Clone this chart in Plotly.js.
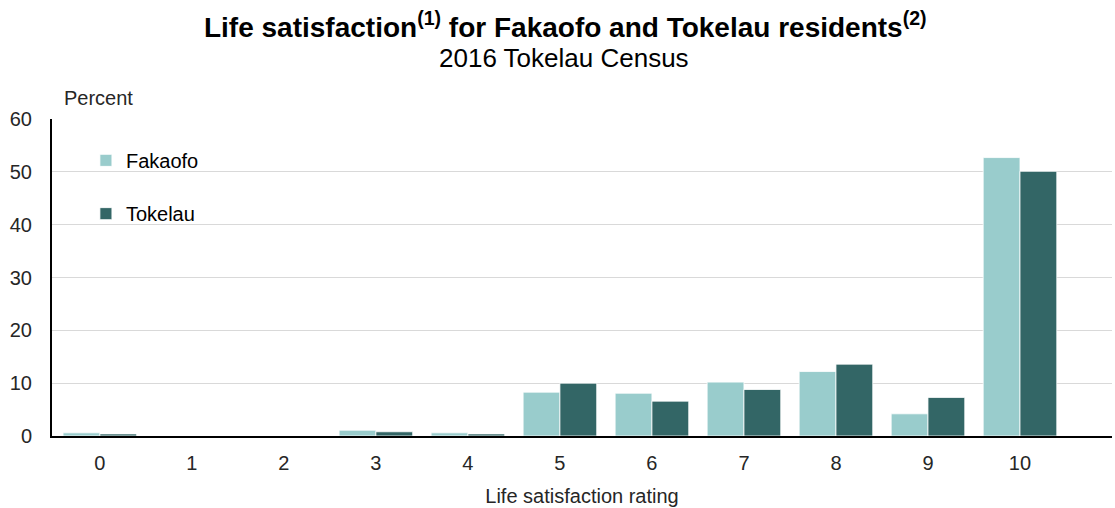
<!DOCTYPE html>
<html>
<head>
<meta charset="utf-8">
<script src="https://cdn.plot.ly/plotly-3.0.1.min.js"></script>
<style>html,body{margin:0;padding:0;background:#fff;}#chart{width:1115px;height:508px;}</style>
</head>
<body>
<div id="chart"></div>
<script>
const ratings = [0, 1, 2, 3, 4, 5, 6, 7, 8, 9, 10];
const tickLabels = ["0", "1", "2", "3", "4", "5", "6", "7", "8", "9", "10"];
const fakaofo = [0.6, 0, 0, 1.1, 0.6, 8.3, 8.1, 10.2, 12.2, 4.2, 52.7];
const tokelau = [0.4, 0, 0, 0.8, 0.4, 10.0, 6.6, 8.8, 13.6, 7.3, 50.1];
const yTicks = [0, 10, 20, 30, 40, 50, 60];

const FONT = "Liberation Sans, Arial, sans-serif";
const FS = 20;

const traces = [
  {
    type: "bar", name: "Fakaofo", x: ratings, y: fakaofo,
    marker: {color: "#99CCCC", line: {color: "#ffffff", width: 0.8}},
    legend: "legend"
  },
  {
    type: "bar", name: "Tokelau", x: ratings, y: tokelau,
    marker: {color: "#336666", line: {color: "#ffffff", width: 0.8}},
    legend: "legend2"
  }
];

const legendCommon = {
  xanchor: "left", yanchor: "top",
  font: {family: FONT, size: FS, color: "#000000"},
  bgcolor: "rgba(0,0,0,0)"
};

const layout = {
  width: 1115, height: 508,
  margin: {l: 52, r: 3, t: 119, b: 72, pad: 0},
  paper_bgcolor: "#ffffff", plot_bgcolor: "#ffffff",
  font: {family: FONT, size: FS, color: "#262626"},
  title: {
    text: "<b>Life satisfaction<sup>(1)</sup> for Fakaofo and Tokelau residents<sup>(2)</sup></b>",
    font: {family: FONT, size: 28, color: "#000000"},
    xref: "container", yref: "container",
    x: 0.507, xanchor: "center", y: 0.947, yanchor: "middle"
  },
  barmode: "group",
  bargap: 0.2, bargroupgap: 0,
  showlegend: true,
  legend: Object.assign({x: 0.032, y: 0.931}, legendCommon),
  legend2: Object.assign({x: 0.032, y: 0.763}, legendCommon),
  xaxis: {
    type: "linear",
    range: [-0.52, 11.0],
    tickvals: ratings, ticktext: tickLabels,
    showgrid: false, zeroline: false,
    showline: true, linecolor: "#000000", linewidth: 2,
    ticks: "", ticklabelstandoff: 8,
    tickfont: {family: FONT, size: FS, color: "#262626"},
    title: {text: "Life satisfaction rating", font: {family: FONT, size: FS, color: "#262626"}, standoff: 16}
  },
  yaxis: {
    range: [0, 60],
    tickvals: yTicks,
    showgrid: true, gridcolor: "#d9d9d9", gridwidth: 1,
    zeroline: false,
    showline: true, linecolor: "#000000", linewidth: 2,
    ticks: "", ticklabelstandoff: 14,
    tickfont: {family: FONT, size: FS, color: "#262626"}
  },
  annotations: [
    {
      text: "2016 Tokelau Census", xref: "paper", yref: "paper",
      x: 0.483, y: 1.192, xanchor: "center", yanchor: "middle",
      showarrow: false, font: {family: FONT, size: 26, color: "#000000"}
    },
    {
      text: "Percent", xref: "paper", yref: "paper",
      x: 0.0095, y: 1.066, xanchor: "left", yanchor: "middle",
      showarrow: false, font: {family: FONT, size: FS, color: "#262626"}
    }
  ]
};

Plotly.newPlot("chart", traces, layout, {displayModeBar: false, responsive: false});
</script>
</body>
</html>
